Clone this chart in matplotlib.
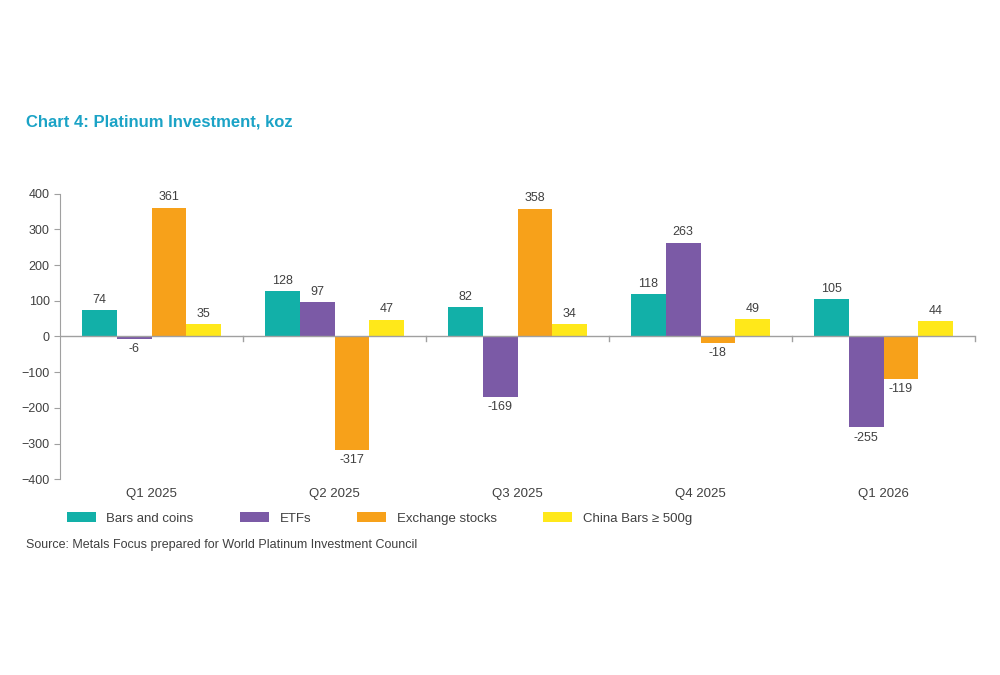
import matplotlib
matplotlib.use("Agg")
import matplotlib.pyplot as plt
import numpy as np

categories = ["Q1 2025", "Q2 2025", "Q3 2025", "Q4 2025", "Q1 2026"]
bars_coins = [74, 128, 82, 118, 105]
etfs = [-6, 97, -169, 263, -255]
exchange = [361, -317, 358, -18, -119]
china = [35, 47, 34, 49, 44]
series = [("Bars and coins", bars_coins, "#12B0A8"),
          ("ETFs", etfs, "#7B5AA6"),
          ("Exchange stocks", exchange, "#F7A11A"),
          ("China Bars \u2265 500g", china, "#FFE81A")]

plt.rcParams['font.family'] = ['Liberation Sans', 'DejaVu Sans']
fig = plt.figure(figsize=(10, 6.75), dpi=100)
ax = fig.add_axes([0.06, 0.29, 0.915, 0.423])
x = np.arange(len(categories))
w = 0.19
for i, (name, vals, c) in enumerate(series):
    pos = x + (i - 1.5) * w
    ax.bar(pos, vals, w, color=c, label=name)
    for p, v in zip(pos, vals):
        if v >= 0:
            ax.text(p, v + 12, str(v), ha='center', va='bottom', fontsize=9, color='#404040')
        else:
            ax.text(p, v - 12, str(v), ha='center', va='top', fontsize=9, color='#404040')

ax.set_xlim(-0.5, 4.5)
ax.set_ylim(-400, 400)
ax.set_yticks(range(-400, 401, 100))
ax.tick_params(axis='y', labelsize=9, colors='#404040', length=4, color='#A0A0A0')
ax.set_xticks([])
for s in ['top', 'right', 'bottom']:
    ax.spines[s].set_visible(False)
ax.spines['left'].set_color('#A0A0A0')
ax.axhline(0, color='#A0A0A0', lw=1)
for b in np.arange(0.5, 4.6, 1.0):
    ax.plot([b, b], [0, -12], color='#A0A0A0', lw=1, clip_on=False)
for xi, c in zip(x, categories):
    ax.text(xi, -425, c, ha='center', va='top', fontsize=9.5, color='#404040')

fig.text(0.026, 0.812, "Chart 4: Platinum Investment, koz", fontsize=12, fontweight='bold', color='#1BA3C6')
fig.legend(loc='lower left', bbox_to_anchor=(0.055, 0.205), ncol=4, frameon=False,
           fontsize=9.5, handlelength=2.2, handleheight=0.8, columnspacing=3.5, labelcolor='#404040')
fig.text(0.026, 0.188, "Source: Metals Focus prepared for World Platinum Investment Council", fontsize=9, color='#404040')
fig.savefig("out.png", dpi=100)
